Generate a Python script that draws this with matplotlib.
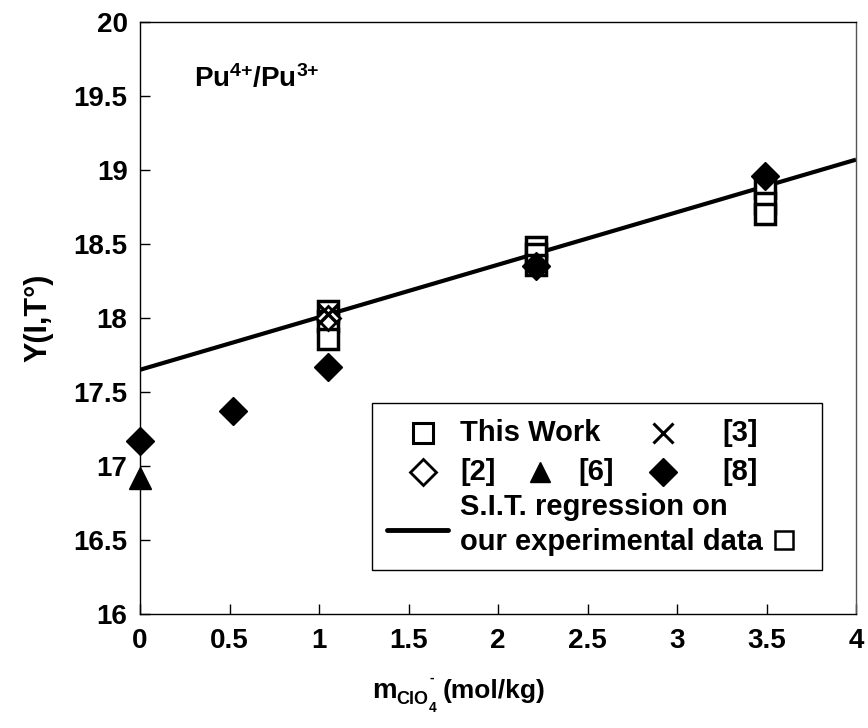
import matplotlib
matplotlib.use("Agg")
import matplotlib.pyplot as plt
from matplotlib.ticker import FuncFormatter
from matplotlib.patches import Rectangle

plt.rcParams['font.family'] = ['Liberation Sans', 'DejaVu Sans']
plt.rcParams['font.weight'] = 'bold'
plt.rcParams['mathtext.fontset'] = 'custom'
plt.rcParams['mathtext.rm'] = 'Liberation Sans:bold'
plt.rcParams['mathtext.it'] = 'Liberation Sans:bold'
plt.rcParams['mathtext.bf'] = 'Liberation Sans:bold'
plt.rcParams['mathtext.default'] = 'regular'

# Molality of perchlorate (mol/kg) and Y(I,T°) values per data source
this_work_x = [1.05, 1.05, 1.05, 2.21, 2.21, 2.21, 3.49, 3.49, 3.49]
this_work_y = [18.05, 17.98, 17.86, 18.48, 18.43, 18.36, 18.88, 18.78, 18.70]

ref2_x = [1.05]
ref2_y = [18.00]

ref3_x = [1.05]
ref3_y = [18.03]

ref6_x = [0.0]
ref6_y = [16.92]

ref8_x = [0.0, 0.52, 1.05, 2.21, 3.49]
ref8_y = [17.17, 17.37, 17.67, 18.35, 18.96]

# S.I.T. regression line parameters
sit_intercept = 17.65
sit_slope = 0.355
line_x = [0.0, 4.0]

x_ticks = [0, 0.5, 1, 1.5, 2, 2.5, 3, 3.5, 4]
y_ticks = [16, 16.5, 17, 17.5, 18, 18.5, 19, 19.5, 20]

fig = plt.figure(figsize=(8.68, 7.28), dpi=100)
ax = fig.add_axes([0.1613, 0.1566, 0.8249, 0.8132])

ax.plot(line_x, [sit_intercept + sit_slope * v for v in line_x],
        color='black', lw=3, zorder=2, solid_capstyle='butt')

ax.plot(this_work_x, this_work_y, 's', ms=15, mfc='white', mec='black',
        mew=2.5, ls='none', zorder=3)
ax.plot(ref2_x, ref2_y, 'D', ms=12, mfc='white', mec='black', mew=2,
        ls='none', zorder=4)
ax.plot(ref3_x, ref3_y, 'x', ms=14, mec='black', mew=2.5, ls='none', zorder=4)
ax.plot(ref6_x, ref6_y, '^', ms=16, color='black', ls='none', zorder=4,
        clip_on=False)
ax.plot(ref8_x, ref8_y, 'D', ms=14, color='black', ls='none', zorder=4,
        clip_on=False)

ax.set_xlim(0, 4)
ax.set_ylim(16, 20)
ax.set_xticks(x_ticks)
ax.set_yticks(y_ticks)
fmt = FuncFormatter(lambda v, p: f"{v:g}")
ax.xaxis.set_major_formatter(fmt)
ax.yaxis.set_major_formatter(fmt)
ax.tick_params(direction='in', length=7, width=1, labelsize=20,
               top=False, right=False)
ax.tick_params(axis='x', pad=10)
ax.tick_params(axis='y', pad=9)
for lbl in ax.get_xticklabels() + ax.get_yticklabels():
    lbl.set_fontweight('bold')
for sp in ax.spines.values():
    sp.set_linewidth(1.0)
ax.spines['right'].set_color('#555555')

ax.set_ylabel('Y(I,T°)', fontsize=22, fontweight='bold', labelpad=14)

# x-axis label: m with a small ClO4- subscript, then the unit
fig.text(0.4286, 0.0412, 'm', fontsize=20, fontweight='bold', va='baseline')
fig.text(0.4562, 0.0330, 'ClO', fontsize=13, fontweight='bold', va='baseline')
fig.text(0.4940, 0.0215, '4', fontsize=10, fontweight='bold', va='baseline')
fig.text(0.4945, 0.0640, '-', fontsize=10, fontweight='bold', va='baseline')
fig.text(0.5100, 0.0412, '(mol/kg)', fontsize=19, fontweight='bold',
         va='baseline')

ax.text(0.3, 19.62, r'Pu$^{4{+}}$/Pu$^{3{+}}$', fontsize=20,
        fontweight='bold', ha='left', va='center')

# Legend panel
T = ax.transAxes
ax.add_patch(Rectangle((0.324, 0.074), 0.6285, 0.282, transform=T,
                       fill=True, fc='white', ec='black', lw=1, zorder=5))
rows = [0.306, 0.240, 0.181, 0.122]
fs = 21
ax.plot([0.395], [rows[0]], 's', ms=15, mfc='white', mec='black', mew=2.2,
        transform=T, zorder=6)
ax.text(0.447, rows[0], 'This Work', fontsize=fs, fontweight='bold',
        va='center', transform=T, zorder=6)
ax.plot([0.730], [rows[0]], 'x', ms=14, mec='black', mew=2.2,
        transform=T, zorder=6)
ax.text(0.814, rows[0], '[3]', fontsize=fs, fontweight='bold',
        va='center', transform=T, zorder=6)
ax.plot([0.395], [rows[1]], 'D', ms=13, mfc='white', mec='black', mew=2,
        transform=T, zorder=6)
ax.text(0.447, rows[1], '[2]', fontsize=fs, fontweight='bold',
        va='center', transform=T, zorder=6)
ax.plot([0.559], [rows[1]], '^', ms=15, color='black', transform=T, zorder=6)
ax.text(0.612, rows[1], '[6]', fontsize=fs, fontweight='bold',
        va='center', transform=T, zorder=6)
ax.plot([0.730], [rows[1]], 'D', ms=14, color='black', transform=T, zorder=6)
ax.text(0.814, rows[1], '[8]', fontsize=fs, fontweight='bold',
        va='center', transform=T, zorder=6)
ax.text(0.447, rows[2], 'S.I.T. regression on', fontsize=fs,
        fontweight='bold', va='center', transform=T, zorder=6)
ax.text(0.447, rows[3], 'our experimental data', fontsize=fs,
        fontweight='bold', va='center', transform=T, zorder=6)
ax.plot([0.899], [rows[3] + 0.003], 's', ms=13, mfc='white', mec='black',
        mew=1.8, transform=T, zorder=6)
ax.plot([0.345, 0.430], [0.142, 0.142], color='black', lw=3.5,
        transform=T, zorder=6, solid_capstyle='round')

fig.savefig('out.png', dpi=100)
